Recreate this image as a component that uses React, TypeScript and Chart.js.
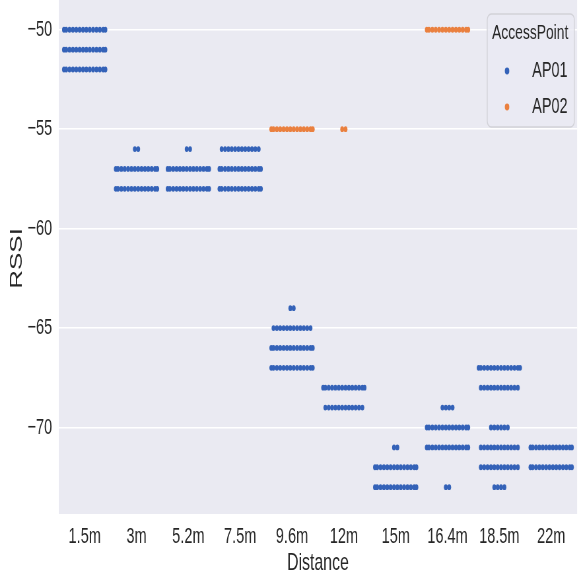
import React, { useEffect, useRef } from 'react';
import { Chart, registerables } from 'chart.js';

Chart.register(...registerables);

// ---------- data ----------
const CATEGORIES = ['1.5m', '3m', '5.2m', '7.5m', '9.6m', '12m', '15m', '16.4m', '18.5m', '22m'];
const Y_TICKS = [-50, -55, -60, -65, -70];
const Y_MIN = -74.35;
const Y_MAX = -48.65;
const LEGEND_TITLE = 'AccessPoint';
const SERIES_NAMES = ['AP01', 'AP02'];

// per category: [RSSI value, number of observations]
const AP01_ROWS: [number, number][][] = [
  [[-50, 14], [-51, 14], [-52, 14]],
  [[-56, 2], [-57, 14], [-58, 14]],
  [[-56, 2], [-57, 14], [-58, 14]],
  [[-56, 12], [-57, 14], [-58, 14]],
  [[-64, 2], [-65, 12], [-66, 14], [-67, 14]],
  [[-68, 14], [-69, 12]],
  [[-71, 2], [-72, 14], [-73, 14]],
  [[-69, 4], [-70, 14], [-71, 14], [-73, 2]],
  [[-67, 14], [-68, 12], [-70, 6], [-71, 12], [-72, 12], [-73, 4]],
  [[-71, 14], [-72, 14]],
];
const AP02_ROWS: [number, number][][] = [
  [], [], [], [],
  [[-55, 14]],
  [[-55, 2]],
  [],
  [[-50, 14]],
  [], [],
];

// ---------- style ----------
const W = 877; // logical canvas width, shown squeezed to 579px
const H = 582;
const BLUE = '#3462b8';
const ORANGE = '#ea803f';
const BG = '#EAEAF2';
const TEXT = '#262626';
const FONT = "'Liberation Sans', Arial, sans-serif";
const DOT_SPACING = 0.065; // category units
const SWARM_HALF = 0.4;
const DOT_R = 2.9;

function swarm(rows: [number, number][][]) {
  const pts: { x: number; y: number }[] = [];
  rows.forEach((catRows, i) => {
    catRows.forEach(([y, n]) => {
      for (let j = 0; j < n; j++) {
        let off = (j - (n - 1) / 2) * DOT_SPACING;
        off = Math.max(-SWARM_HALF, Math.min(SWARM_HALF, off));
        pts.push({ x: i + off, y });
      }
    });
  });
  return pts;
}

const bgPlugin = {
  id: 'bgPlugin',
  beforeDraw(chart: any) {
    const { ctx, chartArea } = chart;
    ctx.save();
    ctx.fillStyle = BG;
    ctx.fillRect(chartArea.left, 0, chartArea.right - chartArea.left, chartArea.bottom);
    ctx.restore();
  },
};

const legendPlugin = {
  id: 'apLegend',
  afterDraw(chart: any) {
    const ctx = chart.ctx as CanvasRenderingContext2D;
    ctx.save();
    const x = 738, y = 14, w = 132, h = 113, r = 6;
    ctx.beginPath();
    ctx.moveTo(x + r, y);
    ctx.lineTo(x + w - r, y);
    ctx.arcTo(x + w, y, x + w, y + r, r);
    ctx.lineTo(x + w, y + h - r);
    ctx.arcTo(x + w, y + h, x + w - r, y + h, r);
    ctx.lineTo(x + r, y + h);
    ctx.arcTo(x, y + h, x, y + h - r, r);
    ctx.lineTo(x, y + r);
    ctx.arcTo(x, y, x + r, y, r);
    ctx.closePath();
    ctx.fillStyle = 'rgba(234,234,242,0.8)';
    ctx.fill();
    ctx.strokeStyle = '#d2d2d8';
    ctx.lineWidth = 1.3;
    ctx.stroke();

    ctx.fillStyle = TEXT;
    ctx.textBaseline = 'middle';
    ctx.textAlign = 'center';
    ctx.font = `21px ${FONT}`;
    ctx.fillText(LEGEND_TITLE, 803, 33);
    ctx.textAlign = 'left';
    ctx.font = `22px ${FONT}`;
    chart.data.datasets.forEach((ds: any, i: number) => {
      const cy = 71 + i * 36;
      ctx.beginPath();
      ctx.fillStyle = ds.backgroundColor;
      ctx.arc(768, cy, 3.4, 0, Math.PI * 2);
      ctx.fill();
      ctx.fillStyle = TEXT;
      ctx.fillText(ds.label, 806, cy);
    });
    ctx.restore();
  },
};

export default function App() {
  const ref = useRef<HTMLCanvasElement>(null);
  useEffect(() => {
    if (!ref.current) return;
    const chart = new Chart(ref.current, {
      type: 'scatter',
      data: {
        datasets: [
          { label: SERIES_NAMES[0], data: swarm(AP01_ROWS), backgroundColor: BLUE, borderWidth: 0, pointRadius: DOT_R, pointHoverRadius: DOT_R },
          { label: SERIES_NAMES[1], data: swarm(AP02_ROWS), backgroundColor: ORANGE, borderWidth: 0, pointRadius: DOT_R, pointHoverRadius: DOT_R },
        ],
      },
      options: {
        animation: false,
        responsive: false,
        devicePixelRatio: 1,
        layout: { padding: 0 },
        plugins: { legend: { display: false }, tooltip: { enabled: false } },
        scales: {
          x: {
            type: 'linear',
            min: -0.5,
            max: 9.5,
            grid: { display: false, drawTicks: false },
            border: { display: false },
            afterBuildTicks: (s: any) => { s.ticks = CATEGORIES.map((_, i) => ({ value: i })); },
            afterFit: (s: any) => { s.height = 68; },
            ticks: {
              autoSkip: false,
              maxRotation: 0,
              padding: 10,
              color: TEXT,
              font: { family: FONT, size: 22 },
              callback: (v: any) => CATEGORIES[Math.round(Number(v))] ?? '',
            },
            title: { display: true, text: 'Distance', color: TEXT, font: { family: FONT, size: 24 }, padding: { top: 0, bottom: 4 } },
          },
          y: {
            type: 'linear',
            min: Y_MIN,
            max: Y_MAX,
            grid: { color: '#ffffff', lineWidth: 1.5, drawTicks: true, tickLength: 10, tickColor: 'rgba(0,0,0,0)' },
            border: { display: false },
            afterBuildTicks: (s: any) => { s.ticks = Y_TICKS.map((v) => ({ value: v })); },
            afterFit: (s: any) => { s.width = 89; },
            ticks: {
              padding: 0,
              color: TEXT,
              font: { family: FONT, size: 22, lineHeight: 0.05 },
              callback: (v: any) => String(v).replace('-', '\u2212'),
            },
            title: { display: true, text: 'RSSI', color: TEXT, font: { family: FONT, size: 26 }, padding: { top: 10, bottom: 0 } },
          },
        },
      },
      plugins: [bgPlugin, legendPlugin],
    } as any);
    return () => chart.destroy();
  }, []);
  return (
    <div style={{ position: 'absolute', left: 0, top: 0, width: 579, height: H }}>
      <canvas ref={ref} width={W} height={H} style={{ width: '579px', height: H + 'px', display: 'block' }} />
    </div>
  );
}
